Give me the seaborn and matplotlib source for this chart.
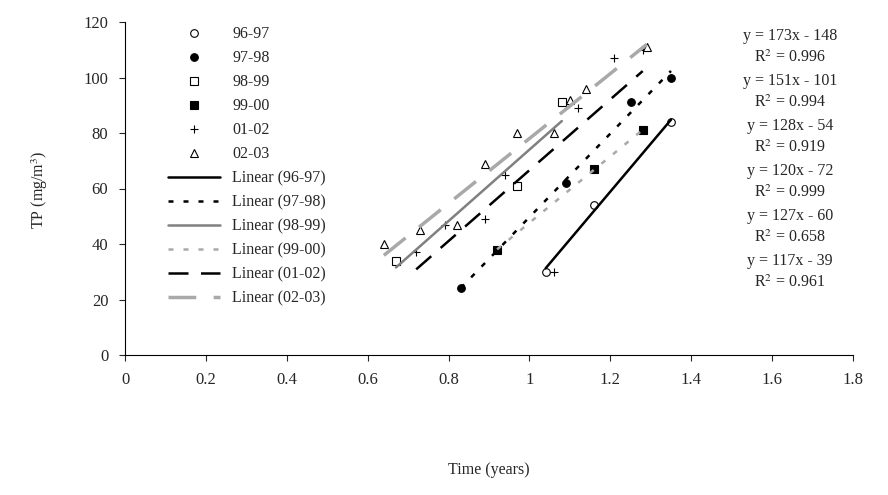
import numpy as np
import matplotlib
matplotlib.use("Agg")
import matplotlib.pyplot as plt
import seaborn as sns

seasons = ["96-97", "97-98", "98-99", "99-00", "01-02", "02-03"]
x_vals = [
    [1.04, 1.16, 1.35],
    [0.83, 1.09, 1.25, 1.35],
    [0.67, 0.97, 1.08],
    [0.92, 1.16, 1.28],
    [0.72, 0.79, 0.89, 0.94, 1.06, 1.12, 1.21, 1.28],
    [0.64, 0.73, 0.82, 0.89, 0.97, 1.06, 1.10, 1.14, 1.29],
]
tp_vals = [
    [30, 54, 84],
    [24, 62, 91, 100],
    [34, 61, 91],
    [38, 67, 81],
    [37, 47, 49, 65, 30, 89, 107, 110],
    [40, 45, 47, 69, 80, 80, 92, 96, 111],
]
equations = ["y = 173x - 148", "y = 151x - 101", "y = 128x - 54",
             "y = 120x - 72", "y = 127x - 60", "y = 117x - 39"]
r2_labels = ["0.996", "0.994", "0.919", "0.999", "0.658", "0.961"]

markers = [dict(marker="o", mfc="white", mec="black"),
           dict(marker="o", mfc="black", mec="black"),
           dict(marker="s", mfc="white", mec="black"),
           dict(marker="s", mfc="black", mec="black"),
           dict(marker="+", mfc="black", mec="black"),
           dict(marker="^", mfc="white", mec="black")]
line_styles = [("black", "-", 1.8), ("black", (0, (2, 4)), 1.8), ("gray", "-", 1.8),
               ("darkgray", (0, (2, 4)), 1.8), ("black", (0, (8, 5)), 1.8),
               ("darkgray", (0, (8, 5)), 2.5)]

sns.set_style("white")
plt.rcParams["font.family"] = ["Liberation Serif", "DejaVu Serif"]
plt.rcParams["mathtext.fontset"] = "stix"

fig = plt.figure(figsize=(8.88, 4.95), dpi=100)
ax = fig.add_axes([125 / 888, 1 - 355 / 495, 728 / 888, 333 / 495])

point_handles = []
line_handles = []
for i, s in enumerate(seasons):
    xs = np.array(x_vals[i])
    ys = np.array(tp_vals[i])
    h, = ax.plot(xs, ys, linestyle="none", markersize=5.5, mew=0.8, label=s, **markers[i])
    point_handles.append(h)
for i, s in enumerate(seasons):
    xs = np.array(x_vals[i])
    ys = np.array(tp_vals[i])
    k, b = np.polyfit(xs, ys, 1)
    xl = np.array([xs.min(), xs.max()])
    c, ls, lw = line_styles[i]
    h, = ax.plot(xl, k * xl + b, color=c, linestyle=ls, linewidth=lw, label=f"Linear ({s})")
    line_handles.append(h)

ax.set_xlim(0, 1.8)
ax.set_ylim(0, 120)
ax.set_xticks(np.arange(0, 1.81, 0.2))
ax.set_xticklabels(["0", "0.2", "0.4", "0.6", "0.8", "1", "1.2", "1.4", "1.6", "1.8"])
ax.set_yticks(range(0, 121, 20))
ax.tick_params(direction="out", length=4, labelsize=12, pad=8, left=True, bottom=True)
for sp in ["top", "right"]:
    ax.spines[sp].set_visible(False)
for sp in ["left", "bottom"]:
    ax.spines[sp].set_color("black")
    ax.spines[sp].set_linewidth(0.8)

ax.legend(handles=point_handles + line_handles, loc="upper left",
          bbox_to_anchor=(0.04, 1.03), frameon=False, fontsize=11.5,
          handlelength=3.2, labelspacing=0.5)

for i in range(len(seasons)):
    y0 = 36 + i * 45
    fig.text(790 / 888, 1 - y0 / 495, equations[i], ha="center", va="center", fontsize=11.5)
    fig.text(790 / 888, 1 - (y0 + 22) / 495, "R$^2$ = " + r2_labels[i], ha="center", va="center", fontsize=11.5)

fig.text(40 / 888, 1 - 190 / 495, "TP (mg/m$^3$)", rotation=90, ha="center", va="center", fontsize=11.5)
fig.text(489 / 888, 1 - 470 / 495, "Time (years)", ha="center", va="center", fontsize=11.5)

fig.savefig("out.png", dpi=100)
